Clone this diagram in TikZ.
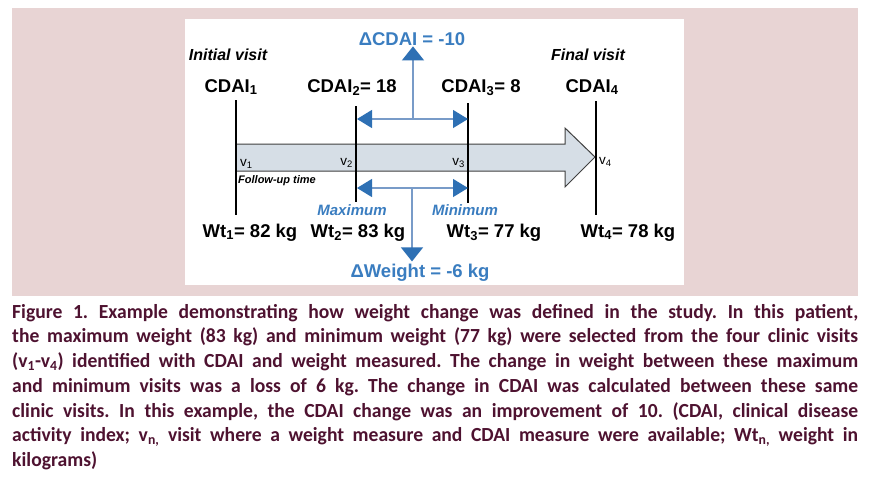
\documentclass[tikz,border=0pt]{standalone}
\usepackage{fontspec}
\setmainfont{Liberation Sans}
\newfontfamily\capfont[FakeStretch=0.98]{Carlito}
\usetikzlibrary{arrows.meta}
\definecolor{pinkbg}{RGB}{232,212,212}
\definecolor{tipblue}{RGB}{46,112,180}
\definecolor{stemblue}{RGB}{120,155,200}
\definecolor{textblue}{RGB}{58,125,192}
\definecolor{capmaroon}{RGB}{78,18,48}
\definecolor{barfill}{RGB}{214,222,230}
\begin{document}
\begin{tikzpicture}[x=1pt, y=-1pt,
    lbl/.style={anchor=base, inner sep=0pt, font=\bfseries\fontsize{18.5}{20}\selectfont},
    visit/.style={anchor=base, inner sep=0pt, font=\bfseries\itshape\fontsize{16}{18}\selectfont},
    delta/.style={lbl, text=textblue},
    extreme/.style={anchor=base, inner sep=0pt, text=textblue, font=\bfseries\itshape\fontsize{15}{17}\selectfont},
    vlbl/.style={inner sep=0pt, font=\fontsize{13.5}{15}\selectfont},
    tick/.style={black, line width=1.3pt},
    bar/.style={draw=black!75, fill=barfill, line width=1pt, line join=miter},
    span/.style={stemblue, line width=1.2pt, {Triangle[length=15pt,width=18pt,color=tipblue]}-{Triangle[length=15pt,width=18pt,color=tipblue]}},
    stem/.style={stemblue, line width=1.2pt, -{Triangle[length=14pt,width=22pt,color=tipblue]}}
]
\useasboundingbox (0,0) rectangle (873,483);

% Panel
\fill[pinkbg] (12,8) rectangle (858,296);
\fill[white] (185,19) rectangle (684,285);

% Follow-up arrow
\draw[bar] (236,144) -- (565,144) -- (565,128) -- (595,157) -- (565,187) -- (565,171) -- (236,171) -- cycle;

% Visit lines
\coordinate (tone) at (236,100);  \coordinate (bone) at (236,215);
\coordinate (ttwo) at (356,106);  \coordinate (btwo) at (356,202);
\coordinate (tthree) at (468,103); \coordinate (bthree) at (468,203);
\coordinate (tfour) at (596,101); \coordinate (bfour) at (596,215);
\draw[tick] (tone) -- (bone);
\draw[tick] (ttwo) -- (btwo);
\draw[tick] (tthree) -- (bthree);
\draw[tick] (tfour) -- (bfour);

% Visit labels
\node[visit] (initial) at (228,60) {Initial visit};
\node[visit] (final) at (588,60) {Final visit};
\node[lbl] (cdaione) at (231,92) {CDAI\textsubscript{1}};
\node[lbl] (cdaitwo) at (352,92) {CDAI\textsubscript{2}= 18};
\node[lbl] (cdaithree) at (481,92) {CDAI\textsubscript{3}= 8};
\node[lbl] (cdaifour) at (592,92) {CDAI\textsubscript{4}};

\node[vlbl, anchor=base west] (vone) at (240,166) {v\textsubscript{1}};
\node[vlbl, anchor=base east] (vtwo) at (353,165) {v\textsubscript{2}};
\node[vlbl, anchor=base east] (vthree) at (465,165) {v\textsubscript{3}};
\node[vlbl, anchor=base west] (vfour) at (599,164) {v\textsubscript{4}};
\node[anchor=base west, inner sep=0pt, font=\bfseries\itshape\fontsize{11}{13}\selectfont] (followup) at (238,183) {Follow-up time};

\node[extreme] (maximum) at (352,215) {Maximum};
\node[extreme] (minimum) at (465,215) {Minimum};
\node[lbl] (wtone) at (250,237) {Wt\textsubscript{1}= 82 kg};
\node[lbl] (wttwo) at (358,237) {Wt\textsubscript{2}= 83 kg};
\node[lbl] (wtthree) at (494,237) {Wt\textsubscript{3}= 77 kg};
\node[lbl] (wtfour) at (628,237) {Wt\textsubscript{4}= 78 kg};

% Changes
\node[delta] (dcdai) at (412,45) {ΔCDAI = -10};
\node[delta] (dweight) at (420,277) {ΔWeight = -6 kg};

\coordinate (cdail) at (357,119);  \coordinate (cdair) at (468,119);
\coordinate (cdaimid) at (413,119);
\coordinate (wtl) at (357,188);  \coordinate (wtr) at (468,188);
\coordinate (wtmid) at (412,188);
\draw[span] (cdail) -- (cdair);
\draw[stem] (cdaimid) -- ([yshift=-1pt]cdaimid |- dcdai.south);
\draw[span] (wtl) -- (wtr);
\draw[stem] (wtmid) -- ([yshift=2pt]wtmid |- dweight.north);

% Caption
\node[anchor=north west, inner sep=0pt, text width=846pt, align=justify, text=capmaroon,
      font=\capfont\bfseries\frenchspacing\fontsize{20}{24.7}\selectfont] (caption) at (12,304)
{Figure 1. Example demonstrating how weight change was defined in the study. In this patient,\linebreak
the maximum weight (83 kg) and minimum weight (77 kg) were selected from the four clinic visits\linebreak
(v\textsubscript{1}-v\textsubscript{4}) identified with CDAI and weight measured. The change in weight between these maximum\linebreak
and minimum visits was a loss of 6 kg. The change in CDAI was calculated between these same\linebreak
clinic visits. In this example, the CDAI change was an improvement of 10. (CDAI, clinical disease\linebreak
activity index; v\textsubscript{n,} visit where a weight measure and CDAI measure were available; Wt\textsubscript{n,} weight in\linebreak
kilograms)};
\end{tikzpicture}
\end{document}
